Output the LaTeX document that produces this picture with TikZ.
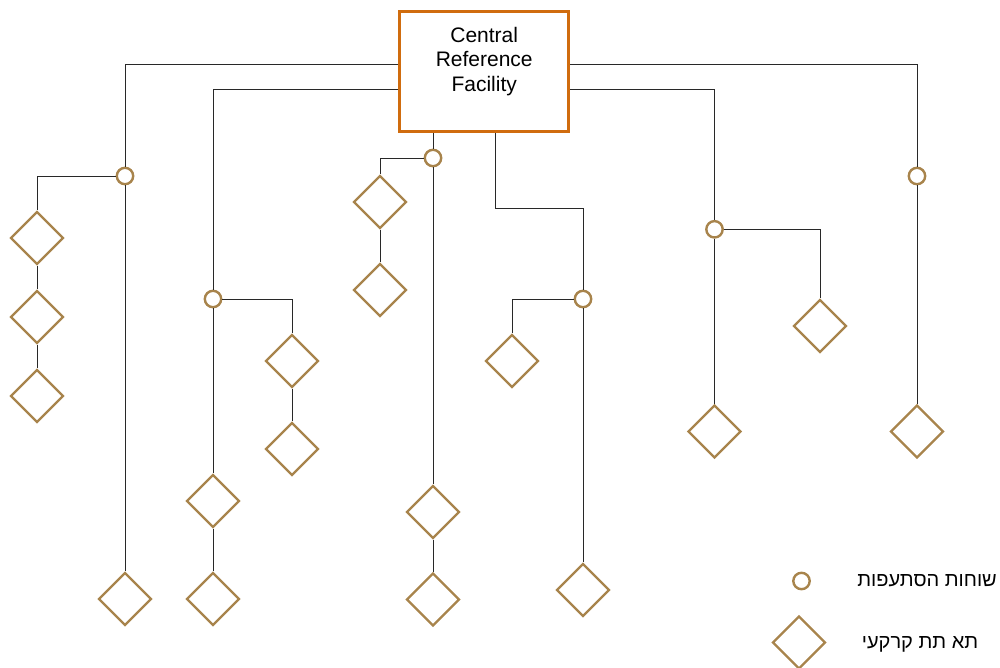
\documentclass[tikz,border=0pt]{standalone}
\usepackage{fontspec}
\setmainfont{Liberation Sans}
\newfontfamily\hebfont[Script=Hebrew]{Liberation Sans}
\TeXXeTstate=1
\usetikzlibrary{shapes.geometric}
\definecolor{boxorange}{RGB}{208,108,14}
\definecolor{gold}{RGB}{168,132,76}
\definecolor{wire}{RGB}{40,40,40}
\tikzset{
  facility/.style={draw=boxorange, line width=3pt, fill=white, minimum width=168.7pt, minimum height=120.3pt, inner sep=0pt},
  facilitytext/.style={align=center, inner sep=0pt, font=\fontsize{21}{24.5}\selectfont},
  junction/.style={circle, draw=gold, line width=2.4pt, fill=white, minimum size=16.4pt, inner sep=0pt},
  vault/.style={diamond, draw=gold, line width=2.4pt, fill=white, minimum width=53pt, minimum height=53pt, inner sep=0pt},
  link/.style={draw=wire, line width=1pt},
  legendtext/.style={font=\hebfont\fontsize{20}{23}\selectfont, inner sep=0pt}
}
\begin{document}
\begin{tikzpicture}[x=1pt,y=-1pt]
\useasboundingbox (0,0) rectangle (1000,667);
% helper coordinates
\coordinate (yA) at (0,64);
\coordinate (yB) at (0,89);
\coordinate (k4) at (495,208);
% nodes
\node[junction] (c1) at (125,176) {};
\node[vault] (d1) at (125,599) {};
\node[vault] (dL1) at (37,238) {};
\node[vault] (dL2) at (37,317) {};
\node[vault] (dL3) at (37,396) {};

\node[junction] (c2) at (213,299) {};
\node[vault] (d2a) at (213,501) {};
\node[vault] (d2b) at (213,599) {};
\node[vault] (dR2a) at (292,361) {};
\node[vault] (dR2b) at (292,449) {};

\node[junction] (c3) at (433,158) {};
\node[vault] (d3a) at (433,512) {};
\node[vault] (d3b) at (433,599.5) {};
\node[vault] (dL3a) at (380,202) {};
\node[vault] (dL3b) at (380,290) {};

\node[junction] (c4) at (583,299) {};
\node[vault] (d4) at (583,590) {};
\node[vault] (dL4) at (512,361) {};

\node[junction] (c5) at (714.5,229.3) {};
\node[vault] (d5) at (714.5,431.5) {};
\node[vault] (dR5) at (820,326) {};

\node[junction] (c6) at (917,176) {};
\node[vault] (d6) at (917,431.5) {};

% connectors
\path[link] (c1) -- (d1);
\path[link] (c1) -| (dL1);
\path[link] (dL1) -- (dL2);
\path[link] (dL2) -- (dL3);

\path[link] (c2) -- (d2a);
\path[link] (d2a) -- (d2b);
\path[link] (c2) -| (dR2a);
\path[link] (dR2a) -- (dR2b);

\path[link] (c3) -- (d3a);
\path[link] (d3a) -- (d3b);
\path[link] (c3) -| (dL3a);
\path[link] (dL3a) -- (dL3b);

\path[link] (c4) -- (d4);
\path[link] (c4) -| (dL4);

\path[link] (c5) -- (d5);
\path[link] (c5) -| (dR5);

\path[link] (c6) -- (d6);

% central facility
\node[facility] (box) at (484.2,71.65) {};
\node[facilitytext] (boxlabel) at (484.2,61.5) {Central\\Reference\\Facility};
\path[link] (box.west |- yA) -| (c1);
\path[link] (box.west |- yB) -| (c2);
\path[link] (box.south -| c3) -- (c3);
\path[link] (box.south -| k4) -- (k4) -| (c4);
\path[link] (box.east |- yB) -| (c5);
\path[link] (box.east |- yA) -| (c6);

% legend
\node[junction] (lc) at (801.5,581) {};
\node[vault] (ld) at (799,642.5) {};
\node[legendtext, anchor=east] (lt1) at (997,581) {\beginR שוחות הסתעפות\endR};
\node[legendtext] (lt2) at (920,644) {\beginR תא תת קרקעי\endR};
\end{tikzpicture}
\end{document}
